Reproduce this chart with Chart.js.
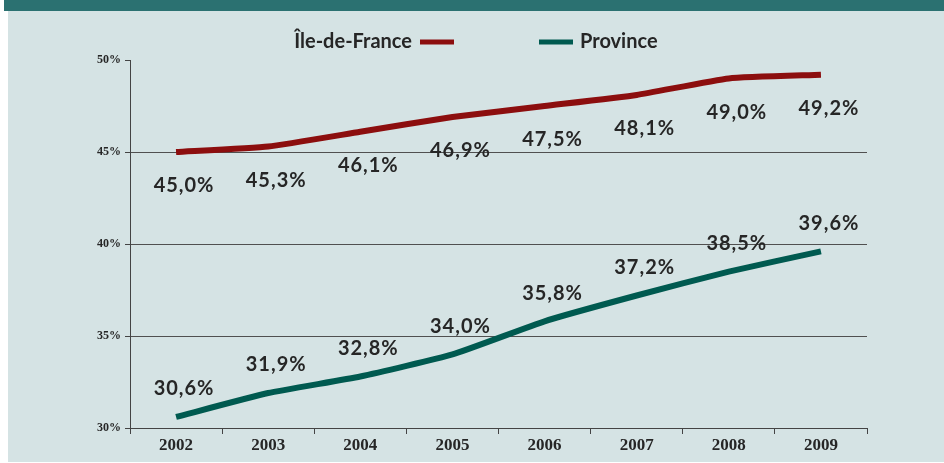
<!DOCTYPE html>
<html>
<head>
<meta charset="utf-8">
<script src="https://cdn.jsdelivr.net/npm/chart.js@4"></script>
<style>
  html, body { margin: 0; padding: 0; background: #fff; }
  #wrap { width: 944px; height: 463px; position: relative; }
</style>
</head>
<body>
<div id="wrap"><canvas id="myChart" width="944" height="463"></canvas></div>
<script>
var years = ["2002", "2003", "2004", "2005", "2006", "2007", "2008", "2009"];
var idfValues = [45.0, 45.3, 46.1, 46.9, 47.5, 48.1, 49.0, 49.2];
var provValues = [30.6, 31.9, 32.8, 34.0, 35.8, 37.2, 38.5, 39.6];
var yTicks = [30, 35, 40, 45, 50];

var idfColor = "#8c0e0e";
var provColor = "#005a50";
var textColor = "#262626";
var sansFont = "Lato, 'Open Sans', sans-serif";
var serifFont = "'Liberation Serif', 'DejaVu Serif', serif";

function fmt(v) {
  return v.toFixed(1).replace(".", ",") + "%";
}

// page background + top band
var background = {
  id: "background",
  beforeDraw: function (chart) {
    var ctx = chart.ctx;
    ctx.save();
    ctx.fillStyle = "#ffffff";
    ctx.fillRect(0, 0, chart.width, chart.height);
    ctx.fillStyle = "#d5e3e4";
    ctx.fillRect(8, 0, chart.width - 8, 462);
    ctx.fillStyle = "#2b7171";
    ctx.fillRect(4, 0, chart.width - 4, 11);
    ctx.restore();
  }
};

// legend: text then line for first item, line then text for second
var customLegend = {
  id: "customLegend",
  afterDraw: function (chart) {
    var ctx = chart.ctx;
    ctx.save();
    ctx.font = "bold 20px " + sansFont;
    ctx.fillStyle = textColor;
    ctx.textBaseline = "middle";
    ctx.textAlign = "right";
    ctx.fillText("Île-de-France", 412, 42);
    ctx.textAlign = "left";
    ctx.fillText("Province", 580, 42);
    ctx.lineWidth = 5;
    ctx.strokeStyle = idfColor;
    ctx.beginPath();
    ctx.moveTo(420, 42);
    ctx.lineTo(454, 42);
    ctx.stroke();
    ctx.strokeStyle = provColor;
    ctx.beginPath();
    ctx.moveTo(539, 42);
    ctx.lineTo(573, 42);
    ctx.stroke();
    ctx.restore();
  }
};

// value labels next to each point
var valueLabels = {
  id: "valueLabels",
  afterDatasetsDraw: function (chart) {
    var ctx = chart.ctx;
    ctx.save();
    ctx.font = "bold 20px " + sansFont;
    ctx.letterSpacing = "1px";
    ctx.fillStyle = textColor;
    ctx.textAlign = "center";
    ctx.textBaseline = "middle";
    chart.data.datasets.forEach(function (ds, i) {
      var meta = chart.getDatasetMeta(i);
      var dy = i === 0 ? 34 : -28;
      meta.data.forEach(function (pt, j) {
        ctx.fillText(fmt(ds.data[j]), pt.x + 8, pt.y + dy);
      });
    });
    ctx.restore();
  }
};

new Chart("myChart", {
  type: "line",
  data: {
    labels: years,
    datasets: [{
      label: "Île-de-France",
      data: idfValues,
      borderColor: idfColor,
      borderWidth: 6,
      pointRadius: 0,
      tension: 0.15
    }, {
      label: "Province",
      data: provValues,
      borderColor: provColor,
      borderWidth: 6,
      pointRadius: 0,
      tension: 0.15
    }]
  },
  options: {
    responsive: false,
    animation: false,
    layout: { padding: { left: 0, top: 60, right: 77, bottom: 0 } },
    plugins: {
      legend: { display: false },
      tooltip: { enabled: false }
    },
    scales: {
      x: {
        offset: true,
        afterFit: function (scale) { scale.height = 35; },
        border: { display: true, color: "#444", width: 1 },
        grid: {
          offset: true,
          drawOnChartArea: false,
          drawTicks: true,
          tickLength: 6,
          tickColor: "#444"
        },
        ticks: {
          color: textColor,
          padding: 1,
          font: { family: serifFont, size: 17, weight: "bold" }
        }
      },
      y: {
        min: 30,
        max: 50,
        afterFit: function (scale) { scale.width = 130; },
        afterBuildTicks: function (scale) {
          scale.ticks = yTicks.map(function (v) { return { value: v }; });
        },
        border: { display: true, color: "#444", width: 1 },
        grid: {
          color: function (c) {
            return c.tick && c.tick.value === 50 ? "rgba(0,0,0,0)" : "#505050";
          },
          tickColor: "#444",
          tickLength: 5,
          lineWidth: 1
        },
        ticks: {
          color: textColor,
          padding: 4,
          font: { family: serifFont, size: 12, weight: "bold" },
          callback: function (v) { return v + "%"; }
        }
      }
    }
  },
  plugins: [background, customLegend, valueLabels]
});
</script>
</body>
</html>
